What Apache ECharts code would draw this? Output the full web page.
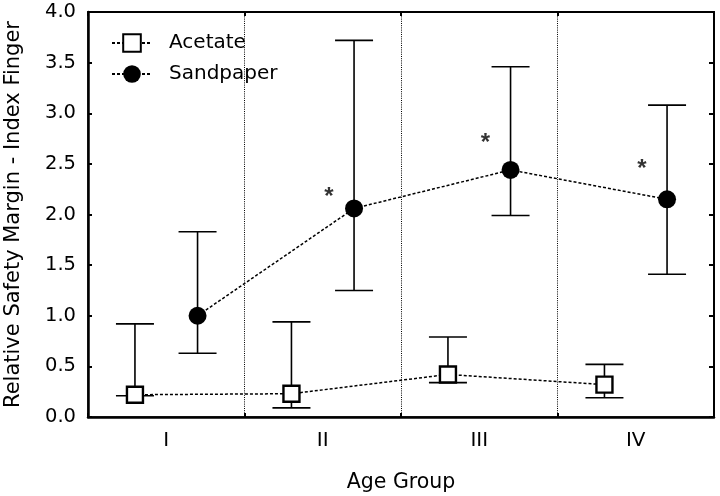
<!DOCTYPE html>
<html><head><meta charset="utf-8">
<script src="https://cdn.jsdelivr.net/npm/echarts@6/dist/echarts.min.js"></script>
<style>html,body{margin:0;padding:0;background:#fff}#c{width:720px;height:496px}</style>
</head><body><div id="c"></div>
<script>
const categories = ['I', 'II', 'III', 'IV'];
const yTicks = [0, 0.5, 1.0, 1.5, 2.0, 2.5, 3.0, 3.5, 4.0];
const acetateMean = [0.22, 0.23, 0.42, 0.32];
const acetateLow  = [0.21, 0.09, 0.34, 0.19];
const acetateHigh = [0.92, 0.94, 0.79, 0.52];
const sandMean = [1.00, 2.06, 2.44, 2.15];
const sandLow  = [0.63, 1.25, 1.99, 1.41];
const sandHigh = [1.83, 3.72, 3.46, 3.08];
const starGroups = [1, 2, 3];
const starY = [2.22, 2.75, 2.50];

const OFF = 0.2;
const FONT = 'DejaVu Sans, Liberation Sans, sans-serif';
const pos = (i, d) => i + 0.5 + d;

const acetatePts = acetateMean.map((v, i) => [pos(i, -OFF), v]);
const sandPts = sandMean.map((v, i) => [pos(i, OFF), v]);
const errData = [];
acetateMean.forEach((v, i) => errData.push([pos(i, -OFF), acetateLow[i], acetateHigh[i]]));
sandMean.forEach((v, i) => errData.push([pos(i, OFF), sandLow[i], sandHigh[i]]));
const starPts = starGroups.map((g, k) => [g + 0.54, starY[k]]);

function renderErr(params, api) {
  const x = api.value(0);
  const lo = api.coord([x, api.value(1)]);
  const hi = api.coord([x, api.value(2)]);
  const hw = 19;
  const st = { stroke: '#000', lineWidth: 1.6 };
  return { type: 'group', children: [
    { type: 'line', shape: { x1: lo[0], y1: lo[1], x2: hi[0], y2: hi[1] }, style: st },
    { type: 'line', shape: { x1: lo[0]-hw, y1: lo[1], x2: lo[0]+hw, y2: lo[1] }, style: st },
    { type: 'line', shape: { x1: hi[0]-hw, y1: hi[1], x2: hi[0]+hw, y2: hi[1] }, style: st }
  ]};
}

const chart = echarts.init(document.getElementById('c'), null, { renderer: 'canvas' });
chart.setOption({
  animation: false,
  backgroundColor: '#fff',
  textStyle: { fontFamily: FONT, color: '#000' },
  grid: { left: 88, right: 6, top: 12, bottom: 79, show: true, borderColor: '#000', borderWidth: 1.5,
    containLabel: false, outerBoundsMode: 'none' },
  legend: {
    orient: 'vertical', left: 106, top: 28, itemWidth: 40, itemHeight: 22, itemGap: 11,
    textStyle: { fontFamily: FONT, fontSize: 20, color: '#000', padding: [0, 0, 0, 12] },
    data: ['Acetate', 'Sandpaper']
  },
  xAxis: [
    {
      type: 'category', data: categories, boundaryGap: true, position: 'bottom',
      axisLine: { lineStyle: { color: '#000', width: 2.5 } },
      axisTick: { show: true, inside: true, length: 4, lineStyle: { color: '#000', width: 2 } },
      axisLabel: { fontFamily: FONT, fontSize: 20, color: '#000', margin: 14 },
      splitLine: { show: true, lineStyle: { color: '#000', width: 1, type: [1, 1.2] } },
      name: 'Age Group', nameLocation: 'middle', nameGap: 55,
      nameTextStyle: { fontFamily: FONT, fontSize: 20.5, color: '#000' }
    },
    { type: 'value', min: 0, max: 4, show: false },
    {
      type: 'category', data: categories, boundaryGap: true, position: 'top',
      axisLine: { lineStyle: { color: '#000', width: 2 } },
      axisTick: { show: true, inside: true, length: 4, lineStyle: { color: '#000', width: 2 } },
      axisLabel: { show: false }, splitLine: { show: false }
    }
  ],
  yAxis: [
    {
      type: 'value', min: 0, max: 4, interval: 0.5,
      axisLine: { show: true, lineStyle: { color: '#000', width: 2.5 } },
      axisTick: { show: true, inside: true, length: 4, lineStyle: { color: '#000', width: 2 } },
      axisLabel: { fontFamily: FONT, fontSize: 19.5, color: '#000', margin: 12,
        formatter: v => yTicks.includes(v) ? v.toFixed(1) : '' },
      splitLine: { show: false },
      name: 'Relative Safety Margin - Index Finger', nameLocation: 'middle', nameGap: 64,
      nameTextStyle: { fontFamily: FONT, fontSize: 21, color: '#000', padding: [0, 0, 0, 0] }
    },
    {
      type: 'value', min: 0, max: 4, interval: 0.5, position: 'right',
      axisLine: { show: true, lineStyle: { color: '#000', width: 2 } },
      axisTick: { show: true, inside: true, length: 5, lineStyle: { color: '#000', width: 2 } },
      axisLabel: { show: false }, splitLine: { show: false }
    }
  ],
  series: [
    {
      type: 'custom', xAxisIndex: 1, yAxisIndex: 0, renderItem: renderErr,
      data: errData, z: 1, silent: true
    },
    {
      name: 'Acetate', type: 'line', xAxisIndex: 1, yAxisIndex: 0, data: acetatePts,
      symbol: 'rect', symbolSize: 16, z: 3,
      itemStyle: { color: '#fff', borderColor: '#000', borderWidth: 2.4 },
      lineStyle: { color: '#000', width: 1.5, type: [3, 2] }
    },
    {
      name: 'Sandpaper', type: 'line', xAxisIndex: 1, yAxisIndex: 0, data: sandPts,
      symbol: 'circle', symbolSize: 18, z: 3,
      itemStyle: { color: '#000', borderColor: '#000', borderWidth: 0 },
      lineStyle: { color: '#000', width: 1.5, type: [3, 2] }
    },
    {
      type: 'scatter', xAxisIndex: 1, yAxisIndex: 0, data: starPts, symbolSize: 1,
      itemStyle: { color: 'rgba(0,0,0,0)' }, silent: true, z: 4,
      label: { show: true, formatter: '*', position: 'inside', fontFamily: 'Liberation Sans, Arial, sans-serif',
        fontSize: 24, fontWeight: 'bold', color: '#000', offset: [0, 5] }
    }
  ]
});
</script></body></html>
